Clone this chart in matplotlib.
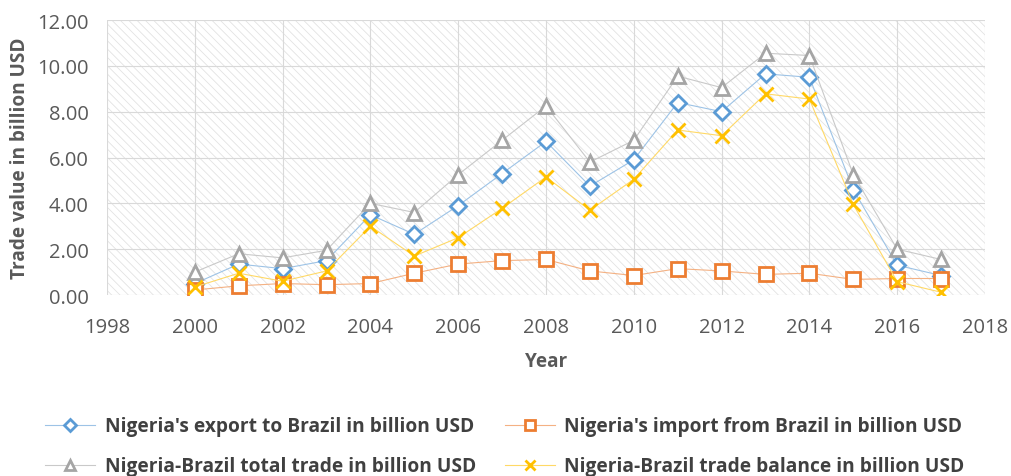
import matplotlib
matplotlib.use("Agg")
import matplotlib.pyplot as plt
from matplotlib.patches import Rectangle

years = [2000, 2001, 2002, 2003, 2004, 2005, 2006, 2007, 2008,
         2009, 2010, 2011, 2012, 2013, 2014, 2015, 2016, 2017]
export_ = [0.50, 1.35, 1.15, 1.50, 3.50, 2.65, 3.90, 5.30, 6.70,
           4.75, 5.90, 8.40, 8.00, 9.65, 9.50, 4.60, 1.30, 0.85]
import_ = [0.22, 0.40, 0.50, 0.45, 0.50, 0.95, 1.35, 1.50, 1.55,
           1.05, 0.85, 1.15, 1.05, 0.90, 0.95, 0.68, 0.72, 0.72]
total = [1.00, 1.80, 1.62, 1.95, 4.00, 3.60, 5.25, 6.75, 8.25,
         5.80, 6.75, 9.55, 9.05, 10.55, 10.45, 5.25, 2.00, 1.55]
balance = [0.35, 0.95, 0.60, 1.05, 3.00, 1.70, 2.50, 3.78, 5.15,
           3.70, 5.05, 7.20, 6.95, 8.78, 8.55, 3.95, 0.58, 0.12]

labels = ["Nigeria's export to Brazil in billion USD",
          "Nigeria's import from Brazil in billion USD",
          "Nigeria-Brazil total trade in billion USD",
          "Nigeria-Brazil trade balance in billion USD"]
xticks = list(range(1998, 2019, 2))
yticks = [0, 2, 4, 6, 8, 10, 12]

plt.rcParams['font.family'] = ['Open Sans', 'DejaVu Sans']
plt.rcParams['hatch.linewidth'] = 0.6

fig = plt.figure(figsize=(10.11, 4.77), dpi=100)
ax = fig.add_axes([107/1011, 1 - 296/477, (985-107)/1011, (296-21)/477])

bg = Rectangle((0, 0), 1, 1, transform=ax.transAxes, facecolor='white',
               edgecolor='#e3e3e3', hatch='\\\\\\\\', linewidth=0, zorder=0)
ax.add_patch(bg)

ax.set_xlim(1998, 2018)
ax.set_ylim(0, 12)
ax.set_xticks(xticks)
ax.set_yticks(yticks)
ax.set_yticklabels([f"{v:.2f}" for v in yticks])
ax.grid(True, color='#d9d9d9', linewidth=0.8, zorder=1)
ax.set_axisbelow(True)
for s in ax.spines.values():
    s.set_visible(False)
ax.tick_params(length=0, labelsize=14.5, colors='#595959')
ax.tick_params(axis='x', pad=16)
ax.tick_params(axis='y', pad=13)

common = dict(linewidth=0.8, markersize=10, markeredgewidth=2, zorder=3)
h_exp, = ax.plot(years, export_, color='#9dc3e6', marker='D', markersize=8,
                 markeredgecolor='#5b9bd5', markerfacecolor='white', label=labels[0],
                 linewidth=0.8, markeredgewidth=2, zorder=3)
h_imp, = ax.plot(years, import_, color='#f4b183', marker='s',
                 markeredgecolor='#ed7d31', markerfacecolor='white', label=labels[1], **common)
h_tot, = ax.plot(years, total, color='#c9c9c9', marker='^',
                 markeredgecolor='#a5a5a5', markerfacecolor='white', label=labels[2], **common)
h_bal, = ax.plot(years, balance, color='#ffd966', marker='x',
                 markeredgecolor='#ffc000', label=labels[3], **common)

ax.set_xlabel('Year', fontsize=13.7, fontweight='bold', color='#595959', labelpad=10)
ax.set_ylabel('Trade value in billion USD', fontsize=13.7, fontweight='bold',
              color='#595959', labelpad=5)

leg = fig.legend([h_exp, h_tot, h_imp, h_bal],
                 [labels[0], labels[2], labels[1], labels[3]],
                 ncol=2, loc='upper left',
                 bbox_to_anchor=(28/1011, 1 - 400/477), frameon=False,
                 fontsize=13.8, handlelength=2.6, columnspacing=1.5,
                 labelspacing=1.05, markerscale=0.75, handletextpad=0.5)
for t in leg.get_texts():
    t.set_fontweight('bold')
    t.set_color('#404040')

fig.savefig('out.png', dpi=100, facecolor='white')
